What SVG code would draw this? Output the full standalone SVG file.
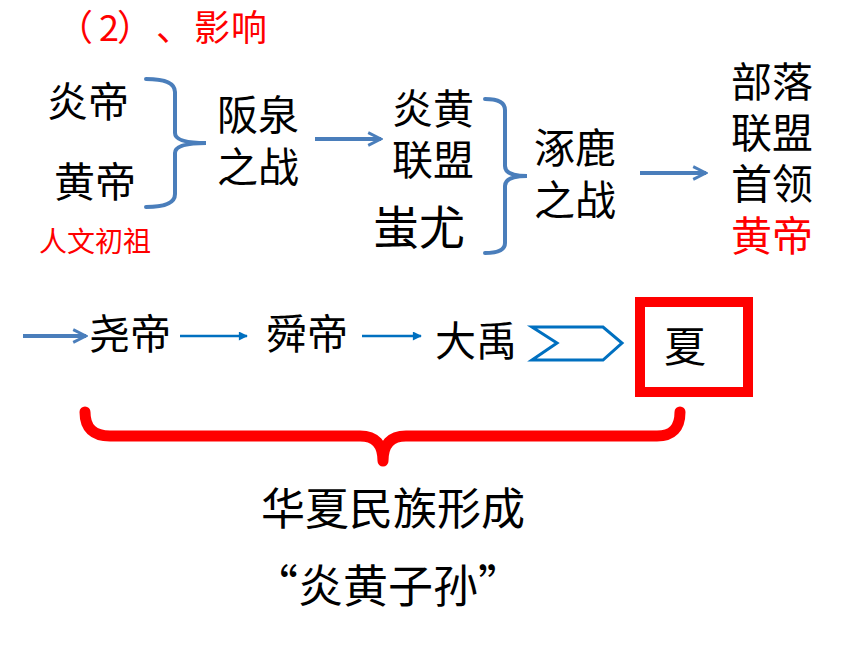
<svg xmlns="http://www.w3.org/2000/svg" width="860" height="645" viewBox="0 0 860 645">
<style>
text{font-family:"Noto Sans CJK SC","Noto Sans CJK JP",sans-serif;}
.k{fill:#000;font-size:41px;}
.r{fill:#ff0000;}
.br{fill:none;stroke:#4a7ebb;stroke-width:4;stroke-linecap:round;}
.a1{fill:none;stroke:#4a7ebb;stroke-width:4;}
.a2{fill:none;stroke:#0070c0;stroke-width:2.5;}
</style>
<defs>
<marker id="open" viewBox="0 0 10 10" refX="9" refY="5" markerWidth="4" markerHeight="4" orient="auto" markerUnits="strokeWidth">
<path d="M1,1 L9,5 L1,9" fill="none" stroke="#4a7ebb" stroke-width="1.8"/>
</marker>
<marker id="tri" viewBox="0 0 10 10" refX="9" refY="5" markerWidth="4" markerHeight="3.6" orient="auto" markerUnits="strokeWidth">
<path d="M0,0 L10,5 L0,10 Z" fill="#0070c0"/>
</marker>
</defs>
<rect width="860" height="645" fill="#fff"/>
<g id="title"><text y="41" class="r" font-size="36px"><tspan x="57">（</tspan><tspan x="99">2</tspan><tspan x="117">）</tspan><tspan x="156">、</tspan><tspan x="194">影</tspan><tspan x="231">响</tspan></text></g>
<g id="yandi"><text x="47" y="117" class="k">炎帝</text></g>
<g id="huangdi"><text x="54" y="197" class="k">黄帝</text></g>
<g id="renwen"><text x="39" y="252" class="r" font-size="28px">人文初祖</text></g>
<g id="banquan"><text x="217" y="130" class="k">阪泉</text><text x="217" y="182" class="k">之战</text></g>
<g id="yanhuang"><text x="392" y="124" class="k">炎黄</text><text x="392" y="175" class="k">联盟</text></g>
<g id="chiyou"><text x="373" y="244" class="k" style="font-size:46px">蚩尤</text></g>
<g id="zhuolu"><text x="534" y="163" class="k">涿鹿</text><text x="534" y="215" class="k">之战</text></g>
<g id="shouling"><text x="731" y="97" class="k">部落</text><text x="731" y="148" class="k">联盟</text><text x="731" y="199" class="k">首领</text><text x="731" y="251" class="r" font-size="41px">黄帝</text></g>
<g id="yao"><text x="89" y="349" class="k">尧帝</text></g>
<g id="shun"><text x="266" y="349" class="k">舜帝</text></g>
<g id="dayu"><text x="435" y="356" class="k">大禹</text></g>
<g id="xia"><rect x="640" y="302" width="108" height="90" fill="none" stroke="#ff0000" stroke-width="10"/><text x="664" y="362" class="k" style="font-size:42px">夏</text></g>
<g id="huaxia"><text x="261" y="525" class="k" style="font-size:44px">华夏民族形成</text></g>
<g id="zisun"><text x="253" y="603" class="k" style="font-size:45px">“炎黄子孙”</text></g>
<g id="connectors">
<path class="br" d="M146,79 Q175,79 175,92 L175,133 Q175,143 206,143 Q175,143 175,153 L175,194 Q175,207 146,207"/>
<path class="br" d="M485,99 Q505,99 505,110 L505,166 Q505,176 527,176 Q505,176 505,186 L505,243 Q505,253 485,253"/>
<line class="a1" x1="315" y1="139" x2="381" y2="139" marker-end="url(#open)"/>
<line class="a1" x1="640" y1="173" x2="706" y2="173" marker-end="url(#open)"/>
<line class="a1" x1="23" y1="336" x2="86" y2="336" marker-end="url(#open)"/>
<line class="a2" x1="180" y1="336" x2="247" y2="336" marker-end="url(#tri)"/>
<line class="a2" x1="362" y1="336" x2="421" y2="336" marker-end="url(#tri)"/>
<polygon points="532,327 603,327 622,343 603,360 532,360 557,343" fill="#fff" stroke="#0070c0" stroke-width="3"/>
<path d="M85,412 Q85,436 110,436 L360,436 Q383,436 383,461 Q383,436 406,436 L657,436 Q680,436 680,412" fill="none" stroke="#ff0000" stroke-width="11" stroke-linecap="round" stroke-linejoin="round"/>
</g>
</svg>
